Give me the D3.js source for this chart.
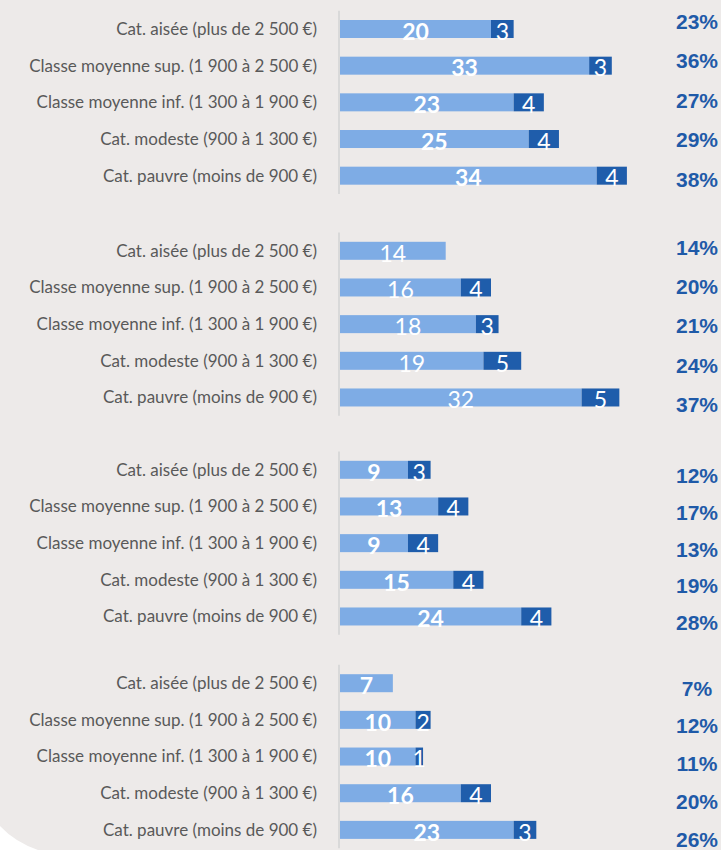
<!DOCTYPE html>
<html>
<head>
<meta charset="utf-8">
<script src="https://cdn.jsdelivr.net/npm/d3@7"></script>
<style>
  html, body { margin: 0; padding: 0; background: #edeae9; }
  svg { display: block; }
</style>
</head>
<body>
<svg width="721" height="850"></svg>
<script>
  // Categories (same for each block)
  const categories = [
    'Cat. aisée (plus de 2 500 €)',
    'Classe moyenne sup. (1 900 à 2 500 €)',
    'Classe moyenne inf. (1 300 à 1 900 €)',
    'Cat. modeste (900 à 1 300 €)',
    'Cat. pauvre (moins de 900 €)'
  ];

  // Light segment values, one array per block
  const lightValues = [
    [20, 33, 23, 25, 34],
    [14, 16, 18, 19, 32],
    [9, 13, 9, 15, 24],
    [7, 10, 10, 16, 23]
  ];

  // Dark segment values
  const darkValues = [
    [3, 3, 4, 4, 4],
    [0, 4, 3, 5, 5],
    [3, 4, 4, 4, 4],
    [0, 2, 1, 4, 3]
  ];

  // Total labels on the right
  const totalLabels = [
    ['23%', '36%', '27%', '29%', '38%'],
    ['14%', '20%', '21%', '24%', '37%'],
    ['12%', '17%', '13%', '19%', '28%'],
    ['7%', '12%', '11%', '20%', '26%']
  ];

  // Light labels bold or not, per block
  const boldLight = [true, false, true, true];

  // Layout of blocks
  const step = 36.67;
  const barHeight = 18;
  const blockFirstCenter = [29, 250.8, 469.8, 683.2];
  const pctRanges = [[21, 179.5], [247, 404.7], [475.8, 622.5], [688, 839.5]];

  const lightColor = '#7eace5';
  const darkColor = '#1f5dab';
  const pctColor = '#1f5aa8';
  const labelColor = '#595959';

  const svg = d3.select('svg');

  // White curve bottom-left
  svg.append('path')
    .attr('d', 'M0,826 Q15,842 38,850 L0,850 Z')
    .attr('fill', '#ffffff');

  const x = d3.scaleLinear().domain([0, 38]).range([340, 340 + 38 * 7.55]);

  blockFirstCenter.forEach((c1, b) => {
    const y = d3.scaleBand()
      .domain(categories)
      .range([c1 - step / 2, c1 + 4 * step + step / 2])
      .paddingInner(1 - barHeight / step)
      .paddingOuter((1 - barHeight / step) / 2);

    const yPct = d3.scalePoint().domain(categories).range(pctRanges[b]);

    const rows = categories.map((cat, i) => ({
      cat,
      light: lightValues[b][i],
      dark: darkValues[b][i],
      pct: totalLabels[b][i]
    }));

    const g = svg.append('g');

    // axis line
    g.append('line')
      .attr('x1', x(0) - 1).attr('x2', x(0) - 1)
      .attr('y1', y.range()[0]).attr('y2', y.range()[1])
      .attr('stroke', '#d9d9d9')
      .attr('stroke-width', 2);

    // category labels
    g.selectAll('.cat').data(rows).enter().append('text')
      .attr('class', 'cat')
      .attr('x', 317)
      .attr('y', d => y(d.cat) + y.bandwidth() / 2)
      .attr('dy', '0.35em')
      .attr('text-anchor', 'end')
      .attr('fill', labelColor)
      .style('font-family', 'Lato, "Open Sans", sans-serif')
      .style('font-size', '17px')
      .text(d => d.cat);

    // light bars
    g.selectAll('.light').data(rows).enter().append('rect')
      .attr('class', 'light')
      .attr('x', x(0))
      .attr('y', d => y(d.cat))
      .attr('width', d => x(d.light) - x(0))
      .attr('height', y.bandwidth())
      .attr('fill', lightColor);

    // dark bars
    g.selectAll('.dark').data(rows.filter(d => d.dark > 0)).enter().append('rect')
      .attr('class', 'dark')
      .attr('x', d => x(d.light))
      .attr('y', d => y(d.cat))
      .attr('width', d => x(d.light + d.dark) - x(d.light))
      .attr('height', y.bandwidth())
      .attr('fill', darkColor);

    // light value labels
    g.selectAll('.lightLabel').data(rows).enter().append('text')
      .attr('class', 'lightLabel')
      .attr('x', d => (x(0) + x(d.light)) / 2)
      .attr('y', d => y(d.cat) + y.bandwidth() / 2 + 2.5)
      .attr('dy', '0.36em')
      .attr('text-anchor', 'middle')
      .attr('fill', '#ffffff')
      .style('font-family', 'Lato, "Open Sans", sans-serif')
      .style('font-size', '23px')
      .style('font-weight', boldLight[b] ? 'bold' : 'normal')
      .text(d => d.light);

    // dark value labels
    g.selectAll('.darkLabel').data(rows.filter(d => d.dark > 0)).enter().append('text')
      .attr('class', 'darkLabel')
      .attr('x', d => (x(d.light) + x(d.light + d.dark)) / 2)
      .attr('y', d => y(d.cat) + y.bandwidth() / 2 + 2.5)
      .attr('dy', '0.36em')
      .attr('text-anchor', 'middle')
      .attr('fill', '#ffffff')
      .style('font-family', 'Lato, "Open Sans", sans-serif')
      .style('font-size', '23px')
      .text(d => d.dark);

    // total percentages
    g.selectAll('.pct').data(rows).enter().append('text')
      .attr('class', 'pct')
      .attr('x', 697)
      .attr('y', d => yPct(d.cat))
      .attr('dy', '0.36em')
      .attr('text-anchor', 'middle')
      .attr('fill', pctColor)
      .style('font-family', '"Liberation Sans", Arial, sans-serif')
      .style('font-size', '21px')
      .style('font-weight', 'bold')
      .text(d => d.pct);
  });
</script>
</body>
</html>
